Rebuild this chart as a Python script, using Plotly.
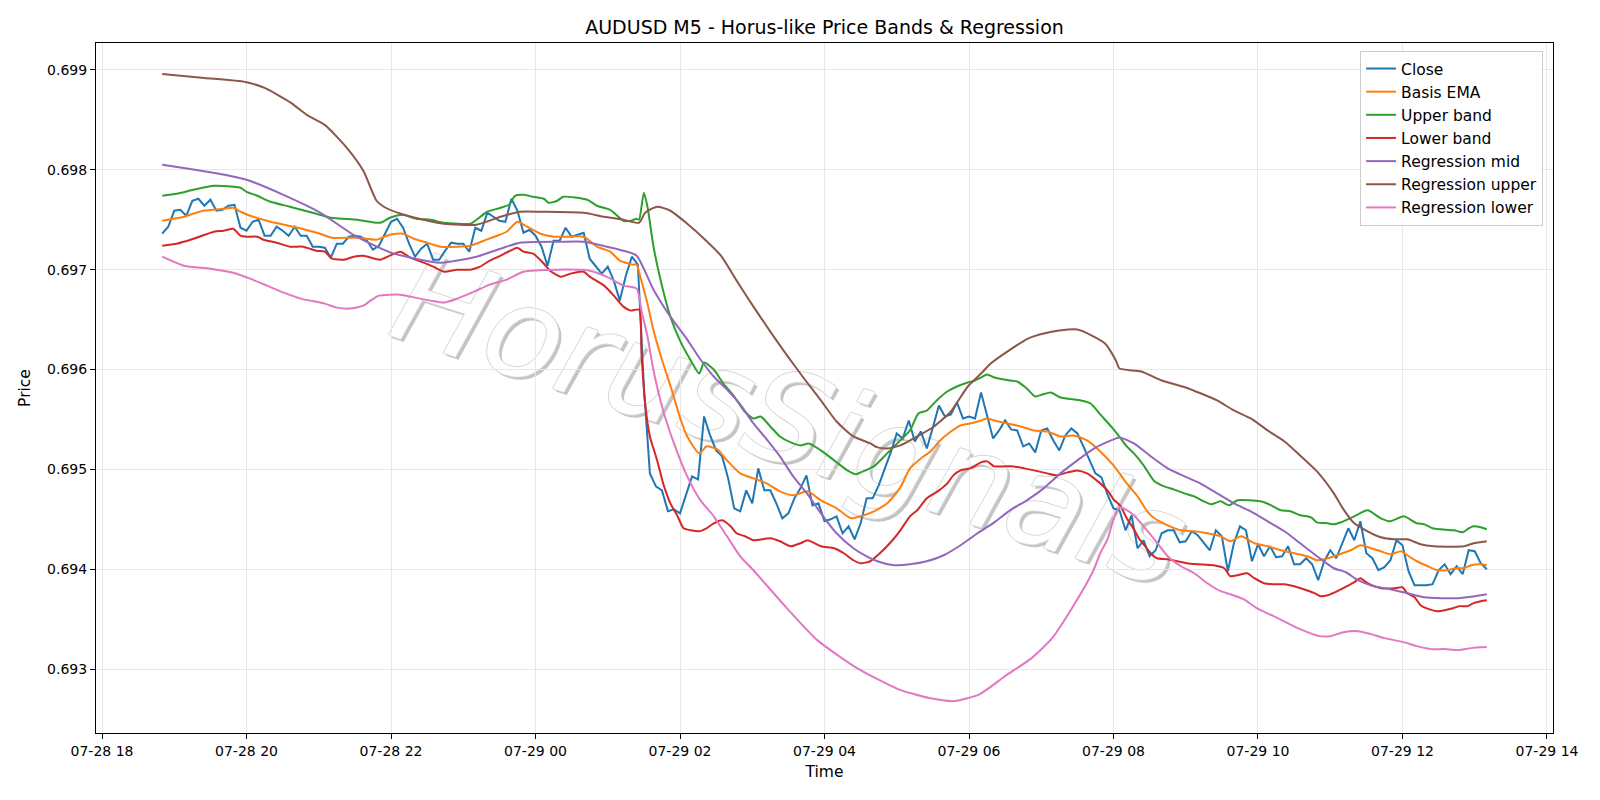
import pandas as pd
import plotly.graph_objects as go

YEAR = "2025-"

# ---------------- Close (M5 bars, starting 07-28 18:50) ----------------
close_start = "07-28 18:50"
close = [
    0.69736, 0.69743, 0.69759, 0.69760, 0.69754, 0.69769, 0.69771, 0.69764, 0.69770, 0.69759,
    0.69760, 0.69764, 0.69765, 0.69742, 0.69739, 0.69748, 0.69750, 0.69734, 0.69734, 0.69743,
    0.69739, 0.69734, 0.69743, 0.69734, 0.69734, 0.69723, 0.69723, 0.69722, 0.69712, 0.69726,
    0.69726, 0.69733, 0.69734, 0.69733, 0.69729, 0.69720, 0.69724, 0.69736, 0.69748, 0.69751,
    0.69742, 0.69726, 0.69713, 0.69721, 0.69726, 0.69710, 0.69710, 0.69719, 0.69727, 0.69726,
    0.69726, 0.69718, 0.69742, 0.69739, 0.69757, 0.69753, 0.69749, 0.69748, 0.69771, 0.69759,
    0.69737, 0.69740, 0.69734, 0.69723, 0.69704, 0.69729, 0.69729, 0.69742, 0.69733, 0.69735,
    0.69737, 0.69711, 0.69704, 0.69696, 0.69703, 0.69689, 0.69669, 0.69694, 0.69713, 0.69705,
    0.69583, 0.69496, 0.69483, 0.69479, 0.69458, 0.69460, 0.69456, 0.69474, 0.69493, 0.69490,
    0.69553, 0.69534, 0.69519, 0.69513, 0.69491, 0.69461, 0.69458, 0.69479, 0.69466, 0.69501,
    0.69479, 0.69479, 0.69466, 0.69451, 0.69456, 0.69471, 0.69481, 0.69494, 0.69464, 0.69466,
    0.69448, 0.69450, 0.69453, 0.69436, 0.69443, 0.69430, 0.69446, 0.69471, 0.69471, 0.69484,
    0.69500, 0.69517, 0.69536, 0.69531, 0.69549, 0.69528, 0.69538, 0.69521, 0.69542, 0.69564,
    0.69553, 0.69555, 0.69567, 0.69551, 0.69553, 0.69551, 0.69577, 0.69555, 0.69531, 0.69539,
    0.69549, 0.69540, 0.69539, 0.69523, 0.69526, 0.69517, 0.69539, 0.69541, 0.69529, 0.69519,
    0.69534, 0.69541, 0.69536, 0.69523, 0.69509, 0.69496, 0.69492, 0.69475, 0.69461, 0.69459,
    0.69439, 0.69454, 0.69421, 0.69429, 0.69413, 0.69419, 0.69436, 0.69439, 0.69439, 0.69427,
    0.69428, 0.69438, 0.69434, 0.69427, 0.69419, 0.69439, 0.69433, 0.69398, 0.69426, 0.69443,
    0.69439, 0.69408, 0.69425, 0.69413, 0.69423, 0.69412, 0.69413, 0.69423, 0.69405, 0.69405,
    0.69411, 0.69405, 0.69389, 0.69408, 0.69419, 0.69411, 0.69426, 0.69441, 0.69429, 0.69448,
    0.69416, 0.69411, 0.69399, 0.69402, 0.69409, 0.69429, 0.69424, 0.69398, 0.69384, 0.69384,
    0.69384, 0.69385, 0.69399, 0.69405, 0.69395, 0.69403, 0.69395, 0.69419, 0.69418, 0.69406,
    0.69400,
]

# ---------------- Basis EMA ----------------
ema_t = [
    "07-28 18:50", "07-28 19:08", "07-28 19:24", "07-28 19:41", "07-28 19:49", "07-28 19:55",
    "07-28 20:03", "07-28 20:20", "07-28 20:39", "07-28 21:01", "07-28 21:11", "07-28 21:32",
    "07-28 21:48", "07-28 21:59", "07-28 22:10", "07-28 22:19", "07-28 22:30", "07-28 22:41",
    "07-28 22:55", "07-28 23:06", "07-28 23:17", "07-28 23:28", "07-28 23:36", "07-28 23:45",
    "07-28 23:53", "07-29 00:04", "07-29 00:15", "07-29 00:26", "07-29 00:40", "07-29 00:51",
    "07-29 01:02", "07-29 01:10", "07-29 01:21", "07-29 01:24", "07-29 01:27", "07-29 01:33",
    "07-29 01:38", "07-29 01:46", "07-29 01:52", "07-29 02:00", "07-29 02:06", "07-29 02:16",
    "07-29 02:22", "07-29 02:31", "07-29 02:39", "07-29 02:50", "07-29 03:01", "07-29 03:12",
    "07-29 03:23", "07-29 03:34", "07-29 03:46", "07-29 03:57", "07-29 04:10", "07-29 04:22",
    "07-29 04:30", "07-29 04:41", "07-29 04:52", "07-29 05:03", "07-29 05:11", "07-29 05:20",
    "07-29 05:28", "07-29 05:36", "07-29 05:45", "07-29 05:53", "07-29 06:01", "07-29 06:10",
    "07-29 06:15", "07-29 06:21", "07-29 06:32", "07-29 06:43", "07-29 06:54", "07-29 07:05",
    "07-29 07:16", "07-29 07:27", "07-29 07:38", "07-29 07:49", "07-29 08:00", "07-29 08:11",
    "07-29 08:20", "07-29 08:28", "07-29 08:34", "07-29 08:45", "07-29 08:56", "07-29 09:07",
    "07-29 09:18", "07-29 09:29", "07-29 09:37", "07-29 09:46", "07-29 09:57", "07-29 10:08",
    "07-29 10:19", "07-29 10:30", "07-29 10:41", "07-29 10:49", "07-29 10:55", "07-29 11:03",
    "07-29 11:17", "07-29 11:25", "07-29 11:34", "07-29 11:42", "07-29 11:50", "07-29 11:59",
    "07-29 12:04", "07-29 12:12", "07-29 12:21", "07-29 12:29", "07-29 12:37", "07-29 12:44",
    "07-29 12:51", "07-29 12:57", "07-29 13:05", "07-29 13:10",
]
ema_v = [
    0.69749, 0.69753, 0.69759, 0.69761, 0.69762, 0.69758,
    0.69754, 0.69748, 0.69743, 0.69736, 0.69732, 0.69732,
    0.69730, 0.69735, 0.69736, 0.69731, 0.69727, 0.69723,
    0.69723, 0.69724, 0.69729, 0.69734, 0.69738, 0.69748,
    0.69743, 0.69736, 0.69733, 0.69733, 0.69733, 0.69723,
    0.69718, 0.69709, 0.69705, 0.69705, 0.69693, 0.69666,
    0.69639, 0.69606, 0.69584, 0.69552, 0.69533, 0.69516,
    0.69523, 0.69520, 0.69509, 0.69496, 0.69491, 0.69486,
    0.69478, 0.69474, 0.69478, 0.69469, 0.69461, 0.69451,
    0.69453, 0.69458, 0.69466, 0.69482, 0.69501, 0.69511,
    0.69518, 0.69529, 0.69538, 0.69544, 0.69546, 0.69549,
    0.69551, 0.69549, 0.69546, 0.69543, 0.69539, 0.69538,
    0.69533, 0.69534, 0.69529, 0.69518, 0.69504, 0.69486,
    0.69473, 0.69458, 0.69451, 0.69444, 0.69439, 0.69438,
    0.69436, 0.69433, 0.69428, 0.69433, 0.69426, 0.69423,
    0.69419, 0.69416, 0.69413, 0.69409, 0.69410, 0.69413,
    0.69419, 0.69424, 0.69421, 0.69418, 0.69415, 0.69418,
    0.69414, 0.69408, 0.69403, 0.69399, 0.69399, 0.69401,
    0.69401, 0.69404, 0.69405, 0.69404,
]

# ---------------- Upper band ----------------
up_t = [
    "07-28 18:50", "07-28 19:02", "07-28 19:16", "07-28 19:33", "07-28 19:49", "07-28 19:55",
    "07-28 20:00", "07-28 20:09", "07-28 20:20", "07-28 20:36", "07-28 20:58", "07-28 21:10",
    "07-28 21:32", "07-28 21:51", "07-28 21:59", "07-28 22:10", "07-28 22:21", "07-28 22:33",
    "07-28 22:44", "07-28 23:06", "07-28 23:11", "07-28 23:20", "07-28 23:31", "07-28 23:38",
    "07-28 23:43", "07-28 23:50", "07-28 23:58", "07-29 00:07", "07-29 00:11", "07-29 00:18",
    "07-29 00:23", "07-29 00:43", "07-29 00:51", "07-29 01:02", "07-29 01:13", "07-29 01:19",
    "07-29 01:24", "07-29 01:26", "07-29 01:30", "07-29 01:33", "07-29 01:38", "07-29 01:44",
    "07-29 01:52", "07-29 02:00", "07-29 02:09", "07-29 02:16", "07-29 02:20", "07-29 02:28",
    "07-29 02:36", "07-29 02:45", "07-29 02:53", "07-29 03:01", "07-29 03:07", "07-29 03:15",
    "07-29 03:23", "07-29 03:32", "07-29 03:40", "07-29 03:47", "07-29 03:57", "07-29 04:08",
    "07-29 04:19", "07-29 04:26", "07-29 04:30", "07-29 04:41", "07-29 04:52", "07-29 05:03",
    "07-29 05:11", "07-29 05:18", "07-29 05:25", "07-29 05:34", "07-29 05:42", "07-29 05:50",
    "07-29 05:59", "07-29 06:05", "07-29 06:10", "07-29 06:15", "07-29 06:21", "07-29 06:34",
    "07-29 06:40", "07-29 06:48", "07-29 06:55", "07-29 07:01", "07-29 07:08", "07-29 07:16",
    "07-29 07:33", "07-29 07:41", "07-29 07:49", "07-29 07:58", "07-29 08:06", "07-29 08:11",
    "07-29 08:17", "07-29 08:25", "07-29 08:34", "07-29 08:42", "07-29 08:50", "07-29 08:59",
    "07-29 09:07", "07-29 09:15", "07-29 09:21", "07-29 09:29", "07-29 09:36", "07-29 09:43",
    "07-29 10:02", "07-29 10:11", "07-29 10:19", "07-29 10:27", "07-29 10:35", "07-29 10:44",
    "07-29 10:49", "07-29 10:58", "07-29 11:03", "07-29 11:09", "07-29 11:20", "07-29 11:31",
    "07-29 11:42", "07-29 11:50", "07-29 12:01", "07-29 12:12", "07-29 12:18", "07-29 12:25",
    "07-29 12:32", "07-29 12:43", "07-29 12:50", "07-29 12:55", "07-29 12:59", "07-29 13:05",
    "07-29 13:10",
]
up_v = [
    0.69774, 0.69776, 0.69780, 0.69784, 0.69783, 0.69782,
    0.69778, 0.69774, 0.69768, 0.69763, 0.69756, 0.69752,
    0.69750, 0.69747, 0.69752, 0.69755, 0.69751, 0.69750,
    0.69747, 0.69746, 0.69750, 0.69758, 0.69762, 0.69765,
    0.69774, 0.69775, 0.69773, 0.69771, 0.69767, 0.69769,
    0.69773, 0.69770, 0.69764, 0.69760, 0.69749, 0.69749,
    0.69751, 0.69750, 0.69777, 0.69763, 0.69723, 0.69689,
    0.69653, 0.69629, 0.69609, 0.69596, 0.69607, 0.69600,
    0.69586, 0.69573, 0.69559, 0.69551, 0.69553, 0.69543,
    0.69533, 0.69527, 0.69524, 0.69526, 0.69519, 0.69509,
    0.69499, 0.69495, 0.69497, 0.69503, 0.69516, 0.69529,
    0.69539, 0.69556, 0.69559, 0.69570, 0.69578, 0.69583,
    0.69587, 0.69589, 0.69592, 0.69595, 0.69592, 0.69589,
    0.69588, 0.69581, 0.69573, 0.69575, 0.69577, 0.69572,
    0.69569, 0.69566, 0.69555, 0.69543, 0.69531, 0.69523,
    0.69516, 0.69504, 0.69488, 0.69483, 0.69480, 0.69476,
    0.69473, 0.69468, 0.69465, 0.69468, 0.69464, 0.69469,
    0.69468, 0.69464, 0.69459, 0.69458, 0.69454, 0.69452,
    0.69447, 0.69446, 0.69445, 0.69447, 0.69453, 0.69459,
    0.69451, 0.69448, 0.69453, 0.69446, 0.69445, 0.69441,
    0.69440, 0.69439, 0.69437, 0.69441, 0.69443, 0.69442,
    0.69440,
]

# ---------------- Lower band ----------------
lo_t = [
    "07-28 18:50", "07-28 19:02", "07-28 19:16", "07-28 19:33", "07-28 19:41", "07-28 19:49",
    "07-28 19:55", "07-28 20:00", "07-28 20:09", "07-28 20:14", "07-28 20:25", "07-28 20:36",
    "07-28 20:47", "07-28 20:58", "07-28 21:05", "07-28 21:11", "07-28 21:21", "07-28 21:29",
    "07-28 21:37", "07-28 21:51", "07-28 21:59", "07-28 22:08", "07-28 22:16", "07-28 22:27",
    "07-28 22:35", "07-28 22:44", "07-28 22:55", "07-28 23:06", "07-28 23:14", "07-28 23:22",
    "07-28 23:31", "07-28 23:39", "07-28 23:45", "07-28 23:50", "07-28 23:58", "07-29 00:07",
    "07-29 00:12", "07-29 00:21", "07-29 00:29", "07-29 00:40", "07-29 00:45", "07-29 00:57",
    "07-29 01:05", "07-29 01:13", "07-29 01:19", "07-29 01:26", "07-29 01:28", "07-29 01:31",
    "07-29 01:35", "07-29 01:41", "07-29 01:46", "07-29 01:52", "07-29 01:58", "07-29 02:03",
    "07-29 02:09", "07-29 02:16", "07-29 02:22", "07-29 02:28", "07-29 02:35", "07-29 02:42",
    "07-29 02:47", "07-29 02:54", "07-29 03:01", "07-29 03:15", "07-29 03:23", "07-29 03:32",
    "07-29 03:40", "07-29 03:46", "07-29 03:57", "07-29 04:08", "07-29 04:16", "07-29 04:24",
    "07-29 04:30", "07-29 04:38", "07-29 04:46", "07-29 04:55", "07-29 05:03", "07-29 05:11",
    "07-29 05:17", "07-29 05:25", "07-29 05:34", "07-29 05:42", "07-29 05:47", "07-29 05:53",
    "07-29 06:01", "07-29 06:10", "07-29 06:15", "07-29 06:21", "07-29 06:29", "07-29 06:37",
    "07-29 06:46", "07-29 06:54", "07-29 07:05", "07-29 07:13", "07-29 07:22", "07-29 07:30",
    "07-29 07:38", "07-29 07:47", "07-29 07:55", "07-29 08:00", "07-29 08:06", "07-29 08:11",
    "07-29 08:17", "07-29 08:21", "07-29 08:25", "07-29 08:31", "07-29 08:36", "07-29 08:45",
    "07-29 08:53", "07-29 09:01", "07-29 09:10", "07-29 09:23", "07-29 09:32", "07-29 09:37",
    "07-29 09:43", "07-29 09:51", "07-29 09:57", "07-29 10:05", "07-29 10:13", "07-29 10:22",
    "07-29 10:30", "07-29 10:38", "07-29 10:47", "07-29 10:52", "07-29 10:58", "07-29 11:06",
    "07-29 11:14", "07-29 11:20", "07-29 11:25", "07-29 11:31", "07-29 11:42", "07-29 11:54",
    "07-29 12:00", "07-29 12:04", "07-29 12:10", "07-29 12:15", "07-29 12:22", "07-29 12:29",
    "07-29 12:35", "07-29 12:42", "07-29 12:47", "07-29 12:54", "07-29 12:59", "07-29 13:05",
    "07-29 13:10",
]
lo_v = [
    0.69724, 0.69726, 0.69731, 0.69738, 0.69739, 0.69741,
    0.69734, 0.69733, 0.69733, 0.69730, 0.69727, 0.69723,
    0.69723, 0.69719, 0.69718, 0.69711, 0.69710, 0.69713,
    0.69714, 0.69710, 0.69714, 0.69718, 0.69712, 0.69707,
    0.69703, 0.69698, 0.69700, 0.69700, 0.69703, 0.69709,
    0.69714, 0.69719, 0.69722, 0.69718, 0.69716, 0.69706,
    0.69699, 0.69693, 0.69696, 0.69698, 0.69693, 0.69684,
    0.69674, 0.69663, 0.69659, 0.69660, 0.69616, 0.69566,
    0.69533, 0.69509, 0.69486, 0.69466, 0.69453, 0.69441,
    0.69439, 0.69438, 0.69441, 0.69446, 0.69449, 0.69443,
    0.69436, 0.69433, 0.69429, 0.69431, 0.69428, 0.69423,
    0.69426, 0.69429, 0.69423, 0.69421, 0.69416, 0.69409,
    0.69406, 0.69408, 0.69416, 0.69427, 0.69439, 0.69453,
    0.69459, 0.69471, 0.69478, 0.69486, 0.69494, 0.69499,
    0.69501, 0.69507, 0.69508, 0.69503, 0.69503, 0.69503,
    0.69501, 0.69499, 0.69496, 0.69494, 0.69497, 0.69499,
    0.69496, 0.69488, 0.69479, 0.69470, 0.69463, 0.69451,
    0.69440, 0.69431, 0.69425, 0.69416, 0.69411, 0.69410,
    0.69408, 0.69406, 0.69405, 0.69404, 0.69401, 0.69393,
    0.69394, 0.69396, 0.69391, 0.69386, 0.69385, 0.69385,
    0.69383, 0.69380, 0.69376, 0.69373, 0.69374, 0.69378,
    0.69383, 0.69387, 0.69391, 0.69386, 0.69381, 0.69381,
    0.69382, 0.69376, 0.69372, 0.69364, 0.69360, 0.69358,
    0.69359, 0.69361, 0.69363, 0.69363, 0.69366, 0.69368,
    0.69369,
]

# ---------------- Regression mid ----------------
rm_t = [
    "07-28 18:50", "07-28 20:00", "07-28 21:00", "07-28 21:30", "07-28 22:00", "07-28 22:41",
    "07-28 23:11", "07-28 23:31", "07-28 23:47", "07-29 00:21", "07-29 00:40", "07-29 00:56",
    "07-29 01:13", "07-29 01:24", "07-29 01:38", "07-29 01:52", "07-29 02:06", "07-29 02:17",
    "07-29 02:28", "07-29 02:39", "07-29 02:50", "07-29 03:01", "07-29 03:12", "07-29 03:23",
    "07-29 03:34", "07-29 03:46", "07-29 03:57", "07-29 04:10", "07-29 04:24", "07-29 04:35",
    "07-29 04:44", "07-29 04:58", "07-29 05:11", "07-29 05:25", "07-29 05:39", "07-29 05:53",
    "07-29 06:07", "07-29 06:21", "07-29 06:34", "07-29 06:48", "07-29 07:02", "07-29 07:16",
    "07-29 07:30", "07-29 07:44", "07-29 07:58", "07-29 08:05", "07-29 08:17", "07-29 08:31",
    "07-29 08:45", "07-29 08:59", "07-29 09:12", "07-29 09:26", "07-29 09:40", "07-29 09:54",
    "07-29 10:08", "07-29 10:22", "07-29 10:35", "07-29 10:49", "07-29 11:03", "07-29 11:13",
    "07-29 11:23", "07-29 11:36", "07-29 11:50", "07-29 12:04", "07-29 12:18", "07-29 12:32",
    "07-29 12:46", "07-29 13:00", "07-29 13:10",
]
rm_v = [
    0.69805, 0.69790, 0.69758, 0.69734, 0.69717, 0.69707,
    0.69713, 0.69721, 0.69727, 0.69728, 0.69728, 0.69724,
    0.69719, 0.69714, 0.69680, 0.69653, 0.69630, 0.69610,
    0.69593, 0.69580, 0.69565, 0.69546, 0.69530, 0.69513,
    0.69493, 0.69475, 0.69456, 0.69436, 0.69421, 0.69413,
    0.69408, 0.69404, 0.69405, 0.69408, 0.69414, 0.69424,
    0.69436, 0.69447, 0.69459, 0.69469, 0.69481, 0.69496,
    0.69509, 0.69521, 0.69529, 0.69532, 0.69526, 0.69513,
    0.69501, 0.69493, 0.69486, 0.69476, 0.69466, 0.69458,
    0.69448, 0.69438, 0.69426, 0.69413, 0.69401, 0.69397,
    0.69389, 0.69383, 0.69380, 0.69376, 0.69372, 0.69371,
    0.69371, 0.69373, 0.69375,
]

# ---------------- Regression upper ----------------
ru_t = [
    "07-28 18:50", "07-28 19:25", "07-28 19:59", "07-28 20:15", "07-28 20:37", "07-28 20:50",
    "07-28 21:05", "07-28 21:24", "07-28 21:37", "07-28 21:48", "07-28 21:54", "07-28 22:08",
    "07-28 22:27", "07-28 22:44", "07-28 23:11", "07-28 23:31", "07-28 23:47", "07-29 00:04",
    "07-29 00:40", "07-29 00:57", "07-29 01:13", "07-29 01:26", "07-29 01:31", "07-29 01:41",
    "07-29 01:52", "07-29 02:06", "07-29 02:20", "07-29 02:34", "07-29 02:47", "07-29 03:01",
    "07-29 03:15", "07-29 03:29", "07-29 03:43", "07-29 03:57", "07-29 04:10", "07-29 04:24",
    "07-29 04:38", "07-29 04:44", "07-29 04:52", "07-29 05:03", "07-29 05:17", "07-29 05:31",
    "07-29 05:45", "07-29 05:59", "07-29 06:10", "07-29 06:18", "07-29 06:33", "07-29 06:49",
    "07-29 07:02", "07-29 07:15", "07-29 07:30", "07-29 07:42", "07-29 07:53", "07-29 08:02",
    "07-29 08:05", "07-29 08:23", "07-29 08:40", "07-29 09:00", "07-29 09:26", "07-29 09:40",
    "07-29 09:54", "07-29 10:08", "07-29 10:22", "07-29 10:35", "07-29 10:49", "07-29 11:03",
    "07-29 11:11", "07-29 11:20", "07-29 11:31", "07-29 11:42", "07-29 11:53", "07-29 12:04",
    "07-29 12:15", "07-29 12:26", "07-29 12:51", "07-29 12:59", "07-29 13:10",
]
ru_v = [
    0.69896, 0.69892, 0.69888, 0.69882, 0.69867, 0.69855,
    0.69845, 0.69821, 0.69799, 0.69769, 0.69763, 0.69756,
    0.69750, 0.69746, 0.69745, 0.69753, 0.69758, 0.69758,
    0.69757, 0.69753, 0.69750, 0.69747, 0.69757, 0.69763,
    0.69759, 0.69746, 0.69731, 0.69714, 0.69689, 0.69663,
    0.69638, 0.69614, 0.69591, 0.69569, 0.69548, 0.69533,
    0.69526, 0.69522, 0.69521, 0.69524, 0.69533, 0.69543,
    0.69558, 0.69583, 0.69596, 0.69606, 0.69619, 0.69631,
    0.69636, 0.69639, 0.69640, 0.69634, 0.69626, 0.69609,
    0.69601, 0.69598, 0.69589, 0.69582, 0.69569, 0.69559,
    0.69551, 0.69539, 0.69528, 0.69514, 0.69498, 0.69476,
    0.69460, 0.69446, 0.69438, 0.69432, 0.69430, 0.69430,
    0.69425, 0.69423, 0.69423, 0.69426, 0.69428,
]

# ---------------- Regression lower ----------------
rl_t = [
    "07-28 18:50", "07-28 19:08", "07-28 19:30", "07-28 19:49", "07-28 20:03", "07-28 20:17",
    "07-28 20:31", "07-28 20:45", "07-28 21:05", "07-28 21:15", "07-28 21:26", "07-28 21:37",
    "07-28 21:43", "07-28 21:50", "07-28 22:08", "07-28 22:16", "07-28 22:33", "07-28 22:44",
    "07-28 22:55", "07-28 23:09", "07-28 23:22", "07-28 23:36", "07-28 23:50", "07-29 00:18",
    "07-29 00:45", "07-29 00:59", "07-29 01:13", "07-29 01:24", "07-29 01:28", "07-29 01:33",
    "07-29 01:38", "07-29 01:46", "07-29 01:55", "07-29 02:06", "07-29 02:17", "07-29 02:28",
    "07-29 02:39", "07-29 02:50", "07-29 03:01", "07-29 03:28", "07-29 03:54", "07-29 04:27",
    "07-29 05:01", "07-29 05:27", "07-29 05:48", "07-29 06:09", "07-29 06:30", "07-29 06:52",
    "07-29 07:09", "07-29 07:26", "07-29 07:43", "07-29 07:49", "07-29 07:55", "07-29 08:00",
    "07-29 08:05", "07-29 08:10", "07-29 08:17", "07-29 08:25", "07-29 08:34", "07-29 08:45",
    "07-29 08:56", "07-29 09:07", "07-29 09:18", "07-29 09:29", "07-29 09:37", "07-29 09:48",
    "07-29 09:59", "07-29 10:13", "07-29 10:33", "07-29 10:51", "07-29 11:00", "07-29 11:11",
    "07-29 11:23", "07-29 11:34", "07-29 11:45", "07-29 12:01", "07-29 12:12", "07-29 12:24",
    "07-29 12:35", "07-29 12:46", "07-29 12:57", "07-29 13:10",
]
rl_v = [
    0.69713, 0.69704, 0.69701, 0.69697, 0.69691, 0.69684,
    0.69677, 0.69671, 0.69666, 0.69662, 0.69661, 0.69664,
    0.69669, 0.69674, 0.69675, 0.69673, 0.69669, 0.69667,
    0.69671, 0.69678, 0.69685, 0.69690, 0.69698, 0.69700,
    0.69699, 0.69693, 0.69684, 0.69681, 0.69659, 0.69633,
    0.69599, 0.69559, 0.69526, 0.69493, 0.69469, 0.69453,
    0.69433, 0.69413, 0.69399, 0.69362, 0.69329, 0.69301,
    0.69280, 0.69271, 0.69268, 0.69275, 0.69293, 0.69311,
    0.69331, 0.69362, 0.69398, 0.69416, 0.69430, 0.69450,
    0.69462, 0.69460, 0.69454, 0.69443, 0.69430, 0.69413,
    0.69403, 0.69396, 0.69386, 0.69378, 0.69375, 0.69370,
    0.69361, 0.69353, 0.69341, 0.69333, 0.69333, 0.69337,
    0.69338, 0.69335, 0.69331, 0.69327, 0.69323, 0.69320,
    0.69320, 0.69319, 0.69321, 0.69322,
]

# ---------------- axis labels / texts ----------------
title_text = "AUDUSD M5 - Horus-like Price Bands & Regression"
x_label = "Time"
y_label = "Price"
watermark = "HorusSignals"
x_range = ["07-28 17:55", "07-29 14:05"]
y_range = [0.69236, 0.69927]


def ts(lst):
    return pd.to_datetime([YEAR + s for s in lst])


close_t = pd.date_range(YEAR + close_start, periods=len(close), freq="5min")

series = [
    ("Close", close_t, close, "#1f77b4"),
    ("Basis EMA", ts(ema_t), ema_v, "#ff7f0e"),
    ("Upper band", ts(up_t), up_v, "#2ca02c"),
    ("Lower band", ts(lo_t), lo_v, "#d62728"),
    ("Regression mid", ts(rm_t), rm_v, "#9467bd"),
    ("Regression upper", ts(ru_t), ru_v, "#8c564b"),
    ("Regression lower", ts(rl_t), rl_v, "#e377c2"),
]

fig = go.Figure()
for i, (name, t, v, c) in enumerate(series):
    fig.add_trace(go.Scatter(
        x=t, y=v, mode="lines", name=name,
        line=dict(color=c, width=2, shape="linear" if name == "Close" else "spline", smoothing=0.6),
        legendgroup=f"g{i}",
    ))

FONT = "DejaVu Sans, Verdana, sans-serif"
WM_SIZE = 126


def wm_font(color):
    base = dict(size=WM_SIZE, color=color, family=FONT)
    try:
        go.layout.shape.label.Font(style="italic")
        base["style"] = "italic"
    except Exception:
        pass
    return base


# watermark: light outline + soft shadow + white fill, all beneath the data lines
px_x, px_y = 1 / 1457.3, 1 / 690.6
cx, cy = 0.478, 0.4665
layers = [
    (3.0, -3.0, "#c4c4c4"),
    (-1.0, 0.0, "#d6d6d6"), (1.0, 0.0, "#d6d6d6"),
    (0.0, 1.0, "#d6d6d6"), (0.0, -1.0, "#d6d6d6"),
    (0.0, 0.0, "#ffffff"),
]
for dx, dy, col in layers:
    x = cx + dx * px_x
    y = cy + dy * px_y
    fig.add_shape(
        type="rect", xref="paper", yref="paper",
        x0=x - 0.01, x1=x + 0.01, y0=y - 0.01, y1=y + 0.01,
        line=dict(width=0), fillcolor="rgba(0,0,0,0)", layer="below",
        label=dict(text=watermark, textangle=18, textposition="middle center",
                   font=wm_font(col)),
    )

axis_common = dict(
    showline=True, linecolor="black", linewidth=1.1, mirror=True,
    ticks="outside", ticklen=5, tickwidth=1.1, tickcolor="black",
    showgrid=True, gridcolor="rgb(231,231,231)", gridwidth=1,
    zeroline=False, tickfont=dict(size=14, color="black", family=FONT),
)

fig.update_layout(
    width=1600, height=800,
    paper_bgcolor="white", plot_bgcolor="white",
    font=dict(family=FONT, size=14, color="black"),
    margin=dict(l=96, r=47, t=43, b=67),
    title=dict(text=title_text, x=0.5, xref="paper", xanchor="center",
               y=1 - 27 / 800, yref="container", yanchor="middle",
               font=dict(size=19, color="black", family=FONT)),
    xaxis=dict(
        range=[YEAR + x_range[0], YEAR + x_range[1]],
        tickformat="%m-%d %H", dtick=7200000, tick0=YEAR + "07-28 18:00",
        title=dict(text=x_label, standoff=8, font=dict(size=15.5, family=FONT)),
        **axis_common,
    ),
    yaxis=dict(
        range=y_range, dtick=0.001, tickformat=".3f",
        title=dict(text=y_label, standoff=12, font=dict(size=15.5, family=FONT)),
        **axis_common,
    ),
    legend=dict(
        x=0.9932, y=0.9885, xanchor="right", yanchor="top",
        bgcolor="rgba(255,255,255,0.85)", bordercolor="#cccccc", borderwidth=1,
        font=dict(size=15.5, color="black", family=FONT),
        tracegroupgap=0, itemwidth=30,
    ),
    showlegend=True,
)

fig.write_html("out.html")
